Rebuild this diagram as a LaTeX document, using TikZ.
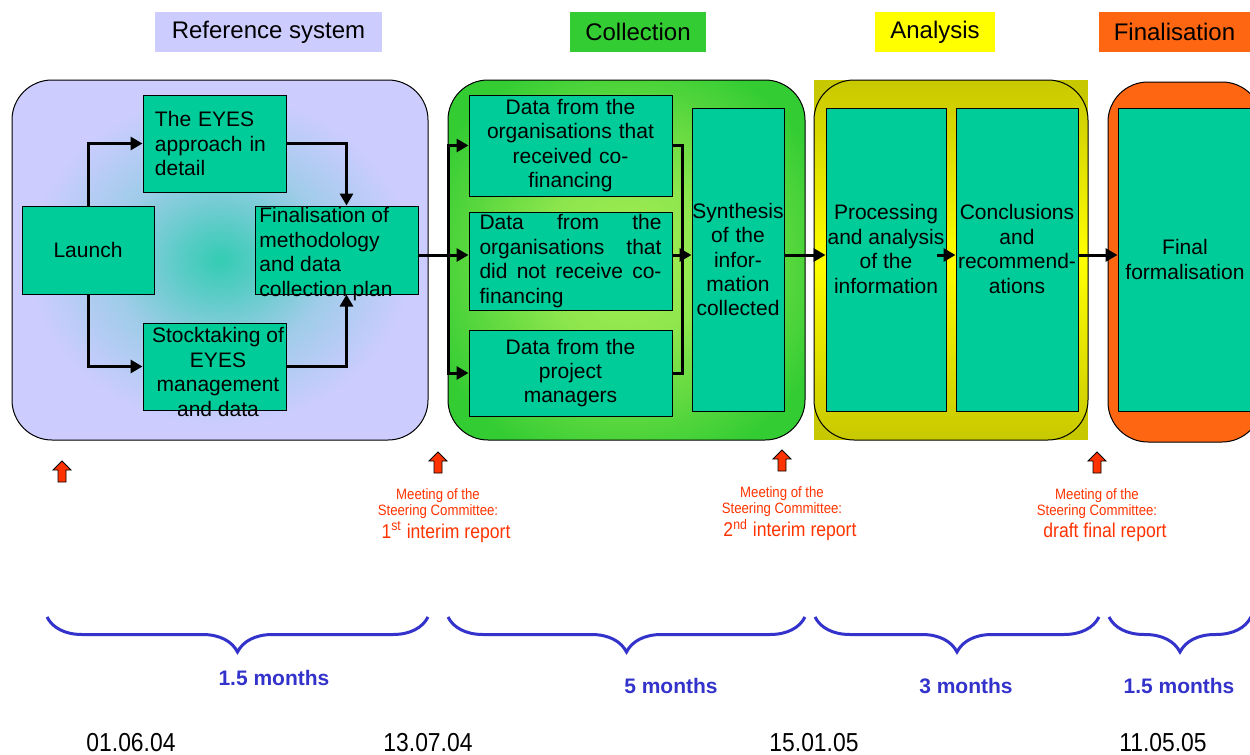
\documentclass[tikz,border=0pt]{standalone}
\usepackage{fontspec}
\setmainfont{Liberation Sans}
\newfontfamily\narrowfont[FakeStretch=0.88]{Liberation Sans}
\usetikzlibrary{calc,arrows.meta,decorations.pathreplacing}
\definecolor{lav}{HTML}{CCCCFF}
\definecolor{boxgreen}{HTML}{00CC99}
\definecolor{collgreen}{HTML}{33CC33}
\definecolor{glowgreen}{HTML}{AAEE55}
\definecolor{anaolive}{HTML}{C8C800}
\definecolor{anayellow}{HTML}{FFFF00}
\definecolor{finorange}{HTML}{FF6611}
\definecolor{durblue}{HTML}{3333CC}
\definecolor{alarm}{HTML}{FF3300}
\newcommand{\boxfont}{\fontsize{10.5}{12.2}\selectfont}
\pgfdeclareradialshading{refglow}{\pgfpoint{0bp}{0bp}}{color(0bp)=(boxgreen!75!lav); color(5bp)=(boxgreen!55!lav); color(13bp)=(boxgreen!22!lav); color(23bp)=(lav); color(50bp)=(lav)}
\pgfdeclareradialshading{collglow}{\pgfpoint{0bp}{0bp}}{color(0bp)=(glowgreen); color(12bp)=(glowgreen!75!collgreen); color(30bp)=(collgreen); color(50bp)=(collgreen)}

\begin{document}
\begin{tikzpicture}[x=0.5pt,y=-0.5pt,>={Triangle[length=6pt,width=6.5pt]},
  box/.style={draw,fill=boxgreen,line width=0.5pt,inner sep=0pt,font=\boxfont,align=center},
  boxtext/.style={inner sep=0pt,font=\boxfont},
  panel/.style={draw,line width=0.5pt,rounded corners=20pt},
  title/.style={minimum height=20pt,inner sep=0pt,font=\fontsize{12}{14}\selectfont},
  conn/.style={line width=1.5pt},
  brace/.style={decorate,decoration={brace,mirror,amplitude=17.5pt},line width=1.5pt,durblue},
  months/.style={text=durblue,font=\bfseries\fontsize{10.5}{12}\selectfont},
  date/.style={font=\narrowfont\fontsize{13}{15}\selectfont},
  meet/.style={text=alarm,align=center,inner sep=0pt,font=\narrowfont\fontsize{7.5}{8}\selectfont},
  report/.style={text=alarm,inner sep=0pt,font=\narrowfont\fontsize{10}{12}\selectfont},
  upmark/.pic={\draw[fill=alarm,line width=0.4pt] (0,0) -- (9,9) -- (4,9) -- (4,21)
    -- (-4,21) -- (-4,9) -- (-9,9) -- cycle;}]
  \path[use as bounding box] (0,0) rectangle (1250,755);
  \clip (0,0) rectangle (1250,755);

  % phase titles
  \node[title,fill=lav,minimum width=113.5pt] (ttl-ref) at (268.5,32) {Reference system};
  \node[title,fill=collgreen,minimum width=68pt] (ttl-coll) at (638,32) {Collection};
  \node[title,fill=anayellow,minimum width=60pt] (ttl-ana) at (935,32) {Analysis};
  \node[title,fill=finorange,minimum width=76pt] (ttl-fin) at (1174.5,32) {Finalisation};

  % phase panels
  \draw[panel,shading=refglow] (12,80) rectangle (428,440);
  \draw[panel,shading=collglow] (448,80) rectangle (805,440);
  \fill[anaolive] (814,80) rectangle (1088,440);
  \draw[panel,top color=anaolive,bottom color=anaolive,middle color=anayellow] (814,80) rectangle (1088,440);
  \draw[panel,fill=finorange] (1108,82) rectangle (1262,442);

  % reference system
  \node[box,minimum width=66pt,minimum height=44pt] (launch) at (88,250) {Launch};
  \node[box,minimum width=71.5pt,minimum height=48.5pt,text width=59.5pt,align=left] (eyes) at (214.5,143.5)
    {The EYES\\approach in\\detail};
  \node[box,minimum width=81.5pt,minimum height=44pt] (fin) at (336.5,250) {};
  \node[boxtext,anchor=west,align=left] (fin-txt) at (259,254)
    {Finalisation of\\methodology\\and data\\collection plan};
  \node[box,minimum width=71.5pt,minimum height=43.5pt] (stock) at (214.5,366.5) {};
  \node[boxtext,align=center] (stock-txt) at (218,372)
    {Stocktaking of\\EYES\\management\\and data};

  % collection
  \node[box,minimum width=101.5pt,minimum height=50.5pt,text width=100pt] (data1) at (570.5,145.5)
    {Data from the\\organisations that\\received co-\\financing};
  \node[box,minimum width=101.5pt,minimum height=49pt,text width=91pt,align=left] (data2) at (570.5,261)
    {Data\hfill from\hfill the\\organisations\hfill that\\did\hfill not\hfill receive\hfill co-\\financing};
  \node[box,minimum width=101.5pt,minimum height=43pt,text width=100pt] (data3) at (570.5,373)
    {Data from the\\project\\managers};
  \node[box,minimum width=46pt,minimum height=151.5pt,text width=46pt] (synth) at (738,259.5)
    {Synthesis\\of the\\infor-\\mation\\collected};

  % analysis and finalisation
  \node[box,minimum width=60pt,minimum height=151.5pt] (proc) at (886,259.5) {};
  \node[boxtext,align=center] (proc-txt) at (886,249)
    {Processing\\and analysis\\of the\\information};
  \node[box,minimum width=61pt,minimum height=151.5pt] (concl) at (1017,259.5) {};
  \node[boxtext,align=center] (concl-txt) at (1017,249)
    {Conclusions\\and\\recommend-\\ations};
  \node[box,minimum width=67pt,minimum height=151.5pt] (final) at (1185,259.5)
    {Final\\formalisation};

  % connectors
  \coordinate (flow) at (0,255);
  \coordinate (split) at (448,255);
  \coordinate (merge) at (682,255);
  \draw[conn,->] (launch.north) |- (eyes.west);
  \draw[conn,->] (launch.south) |- (stock.west);
  \draw[conn,->] (eyes.east) -| ($(fin.north)+(10,0)$);
  \draw[conn,->] (stock.east) -| ($(fin.south)+(10,0)$);
  \draw[conn] (fin.east |- flow) -- (split);
  \draw[conn,->] (split) -- (data2.west |- flow);
  \draw[conn,->] (split) |- (data1.west);
  \draw[conn,->] (split) |- (data3.west);
  \draw[conn] (data1.east) -| (merge);
  \draw[conn] (data3.east) -| (merge);
  \draw[conn,->] (data2.east |- flow) -- (synth.west |- flow);
  \draw[conn,->] (synth.east |- flow) -- (proc.west |- flow);
  \draw[conn,->] ($(proc.east |- flow)+(-10,0)$) -- (concl.west |- flow);
  \draw[conn,->] (concl.east |- flow) -- (final.west |- flow);

  % steering committee meetings
  \pic at (62,461) {upmark};
  \foreach \mx/\my/\rep [count=\i] in {438/496/{1\textsuperscript{st} interim report},
                                       782/494/{2\textsuperscript{nd} interim report},
                                       1097/496/{draft final report}}
  {
    \pic at (\mx,\my-44) {upmark};
    \node[meet] (meet\i) at (\mx,\my+8) {Meeting of the\\Steering Committee:};
    \node[report] (rep\i) at (\mx+8,\my+36) {\rep};
  }

  % durations
  \foreach \xa/\xb/\lx/\ly/\dur [count=\i] in {47/428/274/678/1.5, 448/805/671/686/5,
                                               815/1099/966/686/3, 1109/1251/1179/686/1.5}
  {
    \draw[brace] (\xa,617) -- (\xb,617);
    \node[months] (dur\i) at (\lx,\ly) {\dur\ months};
  }

  % dates
  \foreach \dx/\dt [count=\i] in {131/01.06.04, 428/13.07.04, 814/15.01.05, 1163/11.05.05}
    \node[date] (date\i) at (\dx,743) {\dt};
\end{tikzpicture}
\end{document}
